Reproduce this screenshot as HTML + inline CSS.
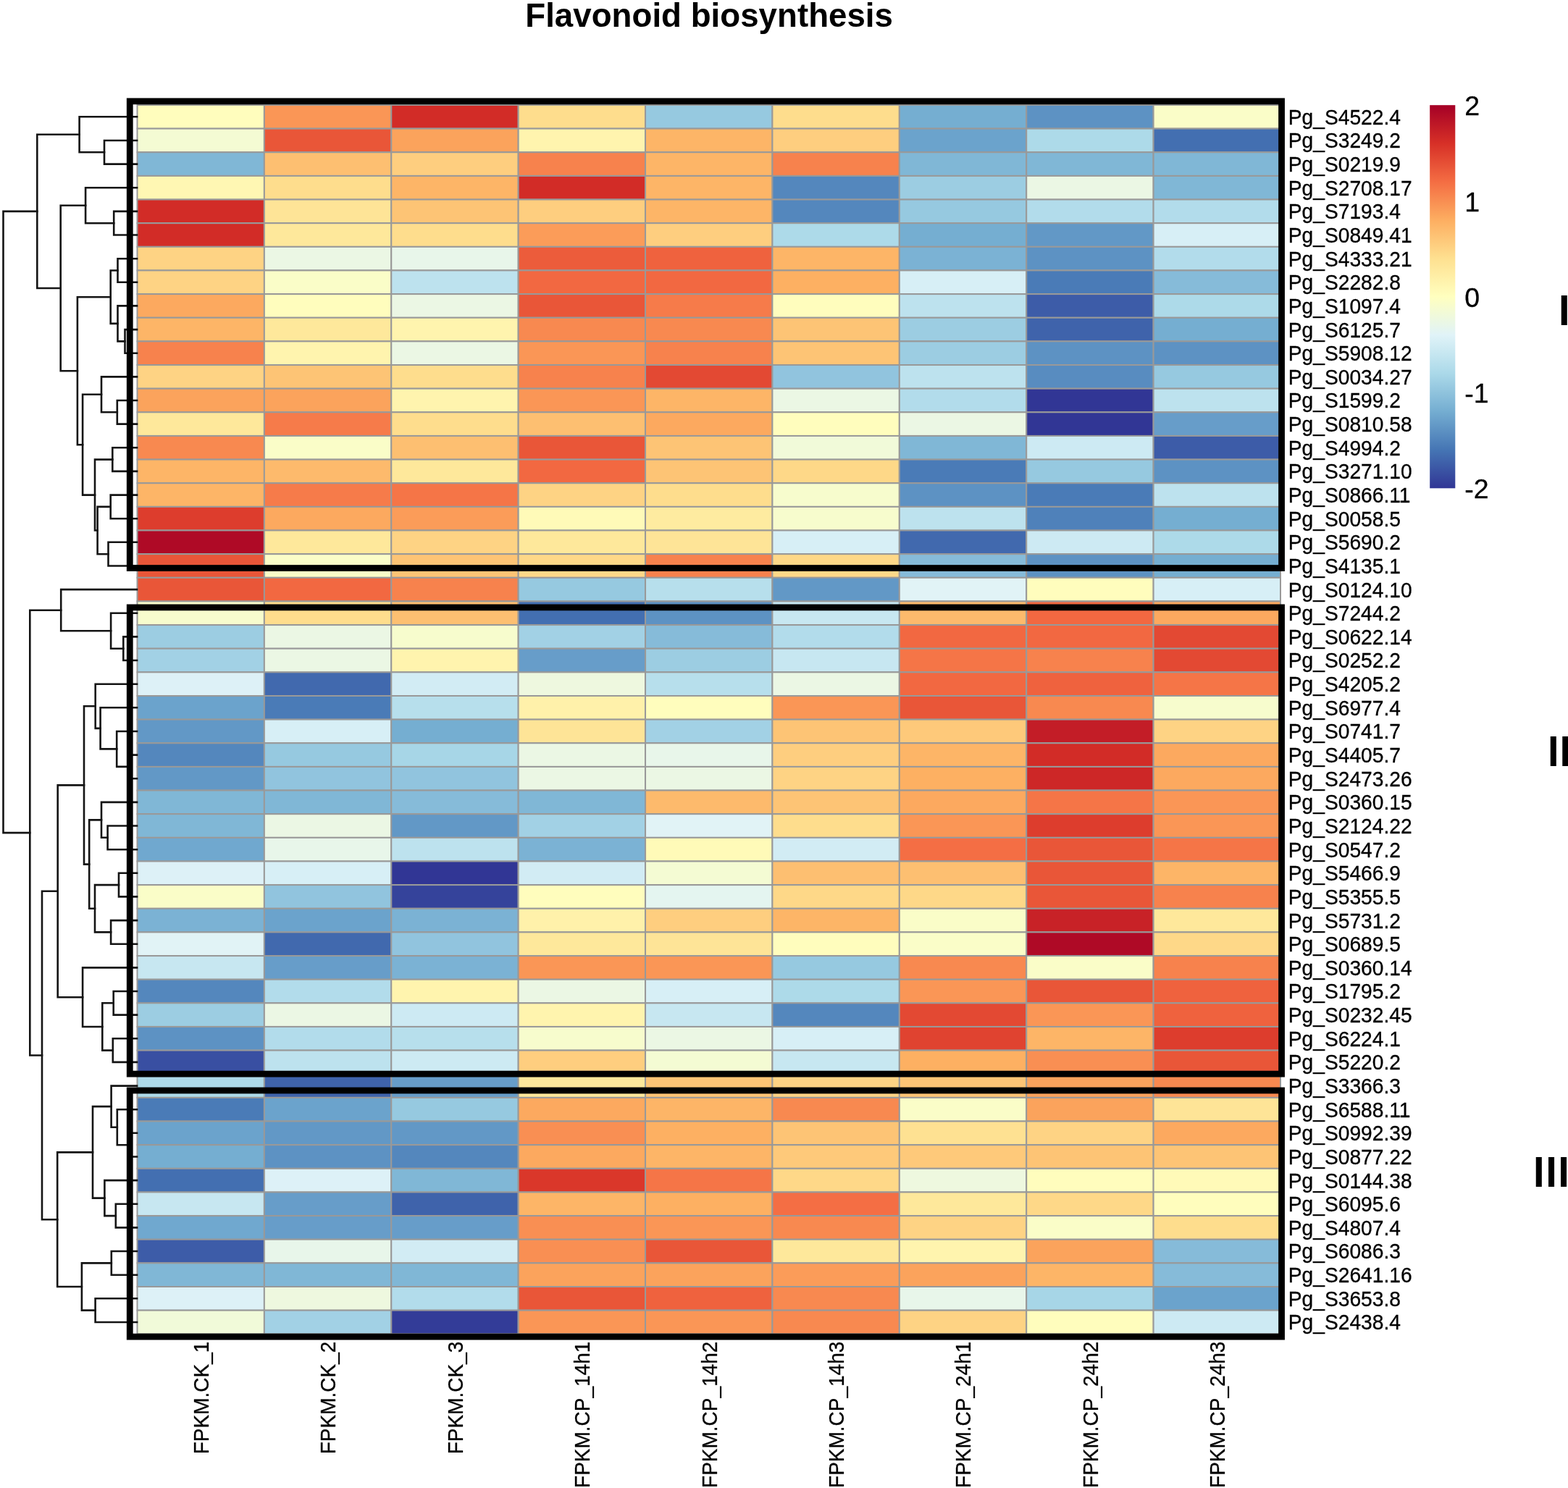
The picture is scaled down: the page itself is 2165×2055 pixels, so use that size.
<!DOCTYPE html>
<html><head><meta charset="utf-8"><title>Flavonoid biosynthesis</title>
<style>
html,body{margin:0;padding:0;background:#fff;}
svg{display:block;}
text{font-family:"Liberation Sans",Arial,Helvetica,sans-serif;fill:#000;}
</style></head><body>
<svg width="2165" height="2055" viewBox="0 0 2165 2055">
<rect width="2165" height="2055" fill="#fff"/>
<text transform="translate(979.1,37) scale(1,1.0)" font-size="45.7" font-weight="bold" text-anchor="middle">Flavonoid biosynthesis</text>
<g stroke="#999999" stroke-width="2">
<rect x="189.50" y="145.00" width="175.39" height="32.64" fill="#fffdbd"/><rect x="364.89" y="145.00" width="175.39" height="32.64" fill="#fa9656"/><rect x="540.28" y="145.00" width="175.39" height="32.64" fill="#d22c27"/><rect x="715.67" y="145.00" width="175.39" height="32.64" fill="#fedd8d"/><rect x="891.06" y="145.00" width="175.39" height="32.64" fill="#96c9e0"/><rect x="1066.44" y="145.00" width="175.39" height="32.64" fill="#fedd8d"/><rect x="1241.83" y="145.00" width="175.39" height="32.64" fill="#75aed1"/><rect x="1417.22" y="145.00" width="175.39" height="32.64" fill="#5d92c3"/><rect x="1592.61" y="145.00" width="175.39" height="32.64" fill="#fafdc8"/>
<rect x="189.50" y="177.64" width="175.39" height="32.64" fill="#f4fbd3"/><rect x="364.89" y="177.64" width="175.39" height="32.64" fill="#e95638"/><rect x="540.28" y="177.64" width="175.39" height="32.64" fill="#fba35c"/><rect x="715.67" y="177.64" width="175.39" height="32.64" fill="#fff4ae"/><rect x="891.06" y="177.64" width="175.39" height="32.64" fill="#fdb567"/><rect x="1066.44" y="177.64" width="175.39" height="32.64" fill="#fece7f"/><rect x="1241.83" y="177.64" width="175.39" height="32.64" fill="#6ba3cc"/><rect x="1417.22" y="177.64" width="175.39" height="32.64" fill="#addae9"/><rect x="1592.61" y="177.64" width="175.39" height="32.64" fill="#436fb1"/>
<rect x="189.50" y="210.28" width="175.39" height="32.64" fill="#80b7d6"/><rect x="364.89" y="210.28" width="175.39" height="32.64" fill="#fdbf71"/><rect x="540.28" y="210.28" width="175.39" height="32.64" fill="#fece7f"/><rect x="715.67" y="210.28" width="175.39" height="32.64" fill="#f7824d"/><rect x="891.06" y="210.28" width="175.39" height="32.64" fill="#fdb567"/><rect x="1066.44" y="210.28" width="175.39" height="32.64" fill="#f7824d"/><rect x="1241.83" y="210.28" width="175.39" height="32.64" fill="#80b7d6"/><rect x="1417.22" y="210.28" width="175.39" height="32.64" fill="#80b7d6"/><rect x="1592.61" y="210.28" width="175.39" height="32.64" fill="#80b7d6"/>
<rect x="189.50" y="242.92" width="175.39" height="32.64" fill="#fff7b3"/><rect x="364.89" y="242.92" width="175.39" height="32.64" fill="#fedd8d"/><rect x="540.28" y="242.92" width="175.39" height="32.64" fill="#fdb567"/><rect x="715.67" y="242.92" width="175.39" height="32.64" fill="#d22c27"/><rect x="891.06" y="242.92" width="175.39" height="32.64" fill="#fdb567"/><rect x="1066.44" y="242.92" width="175.39" height="32.64" fill="#5487bd"/><rect x="1241.83" y="242.92" width="175.39" height="32.64" fill="#9ccde2"/><rect x="1417.22" y="242.92" width="175.39" height="32.64" fill="#ebf7e4"/><rect x="1592.61" y="242.92" width="175.39" height="32.64" fill="#80b7d6"/>
<rect x="189.50" y="275.56" width="175.39" height="32.64" fill="#d22c27"/><rect x="364.89" y="275.56" width="175.39" height="32.64" fill="#fee497"/><rect x="540.28" y="275.56" width="175.39" height="32.64" fill="#fdc475"/><rect x="715.67" y="275.56" width="175.39" height="32.64" fill="#fece7f"/><rect x="891.06" y="275.56" width="175.39" height="32.64" fill="#fdb567"/><rect x="1066.44" y="275.56" width="175.39" height="32.64" fill="#5487bd"/><rect x="1241.83" y="275.56" width="175.39" height="32.64" fill="#96c9e0"/><rect x="1417.22" y="275.56" width="175.39" height="32.64" fill="#b2dceb"/><rect x="1592.61" y="275.56" width="175.39" height="32.64" fill="#b2dceb"/>
<rect x="189.50" y="308.20" width="175.39" height="32.64" fill="#d22c27"/><rect x="364.89" y="308.20" width="175.39" height="32.64" fill="#fee89b"/><rect x="540.28" y="308.20" width="175.39" height="32.64" fill="#fedd8d"/><rect x="715.67" y="308.20" width="175.39" height="32.64" fill="#fb9c59"/><rect x="891.06" y="308.20" width="175.39" height="32.64" fill="#fece7f"/><rect x="1066.44" y="308.20" width="175.39" height="32.64" fill="#addae9"/><rect x="1241.83" y="308.20" width="175.39" height="32.64" fill="#75aed1"/><rect x="1417.22" y="308.20" width="175.39" height="32.64" fill="#6298c6"/><rect x="1592.61" y="308.20" width="175.39" height="32.64" fill="#d7eff6"/>
<rect x="189.50" y="340.84" width="175.39" height="32.64" fill="#fed384"/><rect x="364.89" y="340.84" width="175.39" height="32.64" fill="#ebf7e4"/><rect x="540.28" y="340.84" width="175.39" height="32.64" fill="#e8f6ea"/><rect x="715.67" y="340.84" width="175.39" height="32.64" fill="#ec5c3b"/><rect x="891.06" y="340.84" width="175.39" height="32.64" fill="#ef623e"/><rect x="1066.44" y="340.84" width="175.39" height="32.64" fill="#fdb567"/><rect x="1241.83" y="340.84" width="175.39" height="32.64" fill="#7bb2d4"/><rect x="1417.22" y="340.84" width="175.39" height="32.64" fill="#5d92c3"/><rect x="1592.61" y="340.84" width="175.39" height="32.64" fill="#b2dceb"/>
<rect x="189.50" y="373.48" width="175.39" height="32.64" fill="#fed384"/><rect x="364.89" y="373.48" width="175.39" height="32.64" fill="#fafdc8"/><rect x="540.28" y="373.48" width="175.39" height="32.64" fill="#bde2ee"/><rect x="715.67" y="373.48" width="175.39" height="32.64" fill="#f26841"/><rect x="891.06" y="373.48" width="175.39" height="32.64" fill="#f26841"/><rect x="1066.44" y="373.48" width="175.39" height="32.64" fill="#fdb062"/><rect x="1241.83" y="373.48" width="175.39" height="32.64" fill="#d7eff6"/><rect x="1417.22" y="373.48" width="175.39" height="32.64" fill="#4a7bb7"/><rect x="1592.61" y="373.48" width="175.39" height="32.64" fill="#86bbd9"/>
<rect x="189.50" y="406.12" width="175.39" height="32.64" fill="#fca95f"/><rect x="364.89" y="406.12" width="175.39" height="32.64" fill="#fffdbd"/><rect x="540.28" y="406.12" width="175.39" height="32.64" fill="#ebf7e4"/><rect x="715.67" y="406.12" width="175.39" height="32.64" fill="#e95638"/><rect x="891.06" y="406.12" width="175.39" height="32.64" fill="#f67b4a"/><rect x="1066.44" y="406.12" width="175.39" height="32.64" fill="#fffdbd"/><rect x="1241.83" y="406.12" width="175.39" height="32.64" fill="#bde2ee"/><rect x="1417.22" y="406.12" width="175.39" height="32.64" fill="#3d5ca8"/><rect x="1592.61" y="406.12" width="175.39" height="32.64" fill="#addae9"/>
<rect x="189.50" y="438.76" width="175.39" height="32.64" fill="#fdb567"/><rect x="364.89" y="438.76" width="175.39" height="32.64" fill="#fee89b"/><rect x="540.28" y="438.76" width="175.39" height="32.64" fill="#fff4ae"/><rect x="715.67" y="438.76" width="175.39" height="32.64" fill="#f88950"/><rect x="891.06" y="438.76" width="175.39" height="32.64" fill="#f88950"/><rect x="1066.44" y="438.76" width="175.39" height="32.64" fill="#fdc475"/><rect x="1241.83" y="438.76" width="175.39" height="32.64" fill="#9ccde2"/><rect x="1417.22" y="438.76" width="175.39" height="32.64" fill="#3f63ab"/><rect x="1592.61" y="438.76" width="175.39" height="32.64" fill="#75aed1"/>
<rect x="189.50" y="471.40" width="175.39" height="32.64" fill="#f7824d"/><rect x="364.89" y="471.40" width="175.39" height="32.64" fill="#fff4ae"/><rect x="540.28" y="471.40" width="175.39" height="32.64" fill="#ebf7e4"/><rect x="715.67" y="471.40" width="175.39" height="32.64" fill="#fa9656"/><rect x="891.06" y="471.40" width="175.39" height="32.64" fill="#f7824d"/><rect x="1066.44" y="471.40" width="175.39" height="32.64" fill="#fdc475"/><rect x="1241.83" y="471.40" width="175.39" height="32.64" fill="#9ccde2"/><rect x="1417.22" y="471.40" width="175.39" height="32.64" fill="#5d92c3"/><rect x="1592.61" y="471.40" width="175.39" height="32.64" fill="#5d92c3"/>
<rect x="189.50" y="504.04" width="175.39" height="32.64" fill="#fed384"/><rect x="364.89" y="504.04" width="175.39" height="32.64" fill="#fdc475"/><rect x="540.28" y="504.04" width="175.39" height="32.64" fill="#fedd8d"/><rect x="715.67" y="504.04" width="175.39" height="32.64" fill="#f7824d"/><rect x="891.06" y="504.04" width="175.39" height="32.64" fill="#e34933"/><rect x="1066.44" y="504.04" width="175.39" height="32.64" fill="#91c4de"/><rect x="1241.83" y="504.04" width="175.39" height="32.64" fill="#bde2ee"/><rect x="1417.22" y="504.04" width="175.39" height="32.64" fill="#588cc0"/><rect x="1592.61" y="504.04" width="175.39" height="32.64" fill="#96c9e0"/>
<rect x="189.50" y="536.68" width="175.39" height="32.64" fill="#fba35c"/><rect x="364.89" y="536.68" width="175.39" height="32.64" fill="#fba35c"/><rect x="540.28" y="536.68" width="175.39" height="32.64" fill="#fff4ae"/><rect x="715.67" y="536.68" width="175.39" height="32.64" fill="#fa9656"/><rect x="891.06" y="536.68" width="175.39" height="32.64" fill="#fdb567"/><rect x="1066.44" y="536.68" width="175.39" height="32.64" fill="#ebf7e4"/><rect x="1241.83" y="536.68" width="175.39" height="32.64" fill="#b2dceb"/><rect x="1417.22" y="536.68" width="175.39" height="32.64" fill="#313695"/><rect x="1592.61" y="536.68" width="175.39" height="32.64" fill="#bde2ee"/>
<rect x="189.50" y="569.32" width="175.39" height="32.64" fill="#fee89b"/><rect x="364.89" y="569.32" width="175.39" height="32.64" fill="#f67b4a"/><rect x="540.28" y="569.32" width="175.39" height="32.64" fill="#fedd8d"/><rect x="715.67" y="569.32" width="175.39" height="32.64" fill="#fdbf71"/><rect x="891.06" y="569.32" width="175.39" height="32.64" fill="#fca95f"/><rect x="1066.44" y="569.32" width="175.39" height="32.64" fill="#fffdbd"/><rect x="1241.83" y="569.32" width="175.39" height="32.64" fill="#ebf7e4"/><rect x="1417.22" y="569.32" width="175.39" height="32.64" fill="#313695"/><rect x="1592.61" y="569.32" width="175.39" height="32.64" fill="#679dc9"/>
<rect x="189.50" y="601.96" width="175.39" height="32.64" fill="#f88950"/><rect x="364.89" y="601.96" width="175.39" height="32.64" fill="#fafdc8"/><rect x="540.28" y="601.96" width="175.39" height="32.64" fill="#fdbf71"/><rect x="715.67" y="601.96" width="175.39" height="32.64" fill="#e95638"/><rect x="891.06" y="601.96" width="175.39" height="32.64" fill="#fdc475"/><rect x="1066.44" y="601.96" width="175.39" height="32.64" fill="#f1fad9"/><rect x="1241.83" y="601.96" width="175.39" height="32.64" fill="#80b7d6"/><rect x="1417.22" y="601.96" width="175.39" height="32.64" fill="#cdeaf3"/><rect x="1592.61" y="601.96" width="175.39" height="32.64" fill="#3d5ca8"/>
<rect x="189.50" y="634.60" width="175.39" height="32.64" fill="#fdb567"/><rect x="364.89" y="634.60" width="175.39" height="32.64" fill="#fdba6c"/><rect x="540.28" y="634.60" width="175.39" height="32.64" fill="#fee89b"/><rect x="715.67" y="634.60" width="175.39" height="32.64" fill="#f26841"/><rect x="891.06" y="634.60" width="175.39" height="32.64" fill="#fdc475"/><rect x="1066.44" y="634.60" width="175.39" height="32.64" fill="#fed888"/><rect x="1241.83" y="634.60" width="175.39" height="32.64" fill="#4a7bb7"/><rect x="1417.22" y="634.60" width="175.39" height="32.64" fill="#96c9e0"/><rect x="1592.61" y="634.60" width="175.39" height="32.64" fill="#5d92c3"/>
<rect x="189.50" y="667.24" width="175.39" height="32.64" fill="#fdb567"/><rect x="364.89" y="667.24" width="175.39" height="32.64" fill="#f67b4a"/><rect x="540.28" y="667.24" width="175.39" height="32.64" fill="#f57547"/><rect x="715.67" y="667.24" width="175.39" height="32.64" fill="#fed384"/><rect x="891.06" y="667.24" width="175.39" height="32.64" fill="#fedd8d"/><rect x="1066.44" y="667.24" width="175.39" height="32.64" fill="#f7fccd"/><rect x="1241.83" y="667.24" width="175.39" height="32.64" fill="#5d92c3"/><rect x="1417.22" y="667.24" width="175.39" height="32.64" fill="#4a7bb7"/><rect x="1592.61" y="667.24" width="175.39" height="32.64" fill="#bde2ee"/>
<rect x="189.50" y="699.88" width="175.39" height="32.64" fill="#dd3d2d"/><rect x="364.89" y="699.88" width="175.39" height="32.64" fill="#fca95f"/><rect x="540.28" y="699.88" width="175.39" height="32.64" fill="#fb9c59"/><rect x="715.67" y="699.88" width="175.39" height="32.64" fill="#fffab8"/><rect x="891.06" y="699.88" width="175.39" height="32.64" fill="#feeba0"/><rect x="1066.44" y="699.88" width="175.39" height="32.64" fill="#f7fccd"/><rect x="1241.83" y="699.88" width="175.39" height="32.64" fill="#bde2ee"/><rect x="1417.22" y="699.88" width="175.39" height="32.64" fill="#4f81ba"/><rect x="1592.61" y="699.88" width="175.39" height="32.64" fill="#75aed1"/>
<rect x="189.50" y="732.52" width="175.39" height="32.64" fill="#af0a26"/><rect x="364.89" y="732.52" width="175.39" height="32.64" fill="#fee89b"/><rect x="540.28" y="732.52" width="175.39" height="32.64" fill="#fed384"/><rect x="715.67" y="732.52" width="175.39" height="32.64" fill="#fee89b"/><rect x="891.06" y="732.52" width="175.39" height="32.64" fill="#fee497"/><rect x="1066.44" y="732.52" width="175.39" height="32.64" fill="#d7eff6"/><rect x="1241.83" y="732.52" width="175.39" height="32.64" fill="#4169ae"/><rect x="1417.22" y="732.52" width="175.39" height="32.64" fill="#cdeaf3"/><rect x="1592.61" y="732.52" width="175.39" height="32.64" fill="#addae9"/>
<rect x="189.50" y="765.16" width="175.39" height="32.64" fill="#e95638"/><rect x="364.89" y="765.16" width="175.39" height="32.64" fill="#fafdc8"/><rect x="540.28" y="765.16" width="175.39" height="32.64" fill="#fdc475"/><rect x="715.67" y="765.16" width="175.39" height="32.64" fill="#fed888"/><rect x="891.06" y="765.16" width="175.39" height="32.64" fill="#f7824d"/><rect x="1066.44" y="765.16" width="175.39" height="32.64" fill="#fed888"/><rect x="1241.83" y="765.16" width="175.39" height="32.64" fill="#86bbd9"/><rect x="1417.22" y="765.16" width="175.39" height="32.64" fill="#5d92c3"/><rect x="1592.61" y="765.16" width="175.39" height="32.64" fill="#75aed1"/>
<rect x="189.50" y="797.80" width="175.39" height="32.64" fill="#e95638"/><rect x="364.89" y="797.80" width="175.39" height="32.64" fill="#f26841"/><rect x="540.28" y="797.80" width="175.39" height="32.64" fill="#f7824d"/><rect x="715.67" y="797.80" width="175.39" height="32.64" fill="#96c9e0"/><rect x="891.06" y="797.80" width="175.39" height="32.64" fill="#b7dfec"/><rect x="1066.44" y="797.80" width="175.39" height="32.64" fill="#6298c6"/><rect x="1241.83" y="797.80" width="175.39" height="32.64" fill="#e1f3f6"/><rect x="1417.22" y="797.80" width="175.39" height="32.64" fill="#fffdbd"/><rect x="1592.61" y="797.80" width="175.39" height="32.64" fill="#d7eff6"/>
<rect x="189.50" y="830.44" width="175.39" height="32.64" fill="#f7fccd"/><rect x="364.89" y="830.44" width="175.39" height="32.64" fill="#fedd8d"/><rect x="540.28" y="830.44" width="175.39" height="32.64" fill="#fdbf71"/><rect x="715.67" y="830.44" width="175.39" height="32.64" fill="#436fb1"/><rect x="891.06" y="830.44" width="175.39" height="32.64" fill="#5d92c3"/><rect x="1066.44" y="830.44" width="175.39" height="32.64" fill="#c7e7f1"/><rect x="1241.83" y="830.44" width="175.39" height="32.64" fill="#fdba6c"/><rect x="1417.22" y="830.44" width="175.39" height="32.64" fill="#f26841"/><rect x="1592.61" y="830.44" width="175.39" height="32.64" fill="#fca95f"/>
<rect x="189.50" y="863.08" width="175.39" height="32.64" fill="#9ccde2"/><rect x="364.89" y="863.08" width="175.39" height="32.64" fill="#ebf7e4"/><rect x="540.28" y="863.08" width="175.39" height="32.64" fill="#f7fccd"/><rect x="715.67" y="863.08" width="175.39" height="32.64" fill="#a2d1e5"/><rect x="891.06" y="863.08" width="175.39" height="32.64" fill="#86bbd9"/><rect x="1066.44" y="863.08" width="175.39" height="32.64" fill="#b2dceb"/><rect x="1241.83" y="863.08" width="175.39" height="32.64" fill="#f26841"/><rect x="1417.22" y="863.08" width="175.39" height="32.64" fill="#f26841"/><rect x="1592.61" y="863.08" width="175.39" height="32.64" fill="#e34933"/>
<rect x="189.50" y="895.72" width="175.39" height="32.64" fill="#a2d1e5"/><rect x="364.89" y="895.72" width="175.39" height="32.64" fill="#ebf7e4"/><rect x="540.28" y="895.72" width="175.39" height="32.64" fill="#fff4ae"/><rect x="715.67" y="895.72" width="175.39" height="32.64" fill="#679dc9"/><rect x="891.06" y="895.72" width="175.39" height="32.64" fill="#9ccde2"/><rect x="1066.44" y="895.72" width="175.39" height="32.64" fill="#c7e7f1"/><rect x="1241.83" y="895.72" width="175.39" height="32.64" fill="#f57547"/><rect x="1417.22" y="895.72" width="175.39" height="32.64" fill="#f7824d"/><rect x="1592.61" y="895.72" width="175.39" height="32.64" fill="#e34933"/>
<rect x="189.50" y="928.36" width="175.39" height="32.64" fill="#ddf1f7"/><rect x="364.89" y="928.36" width="175.39" height="32.64" fill="#4169ae"/><rect x="540.28" y="928.36" width="175.39" height="32.64" fill="#d2ecf4"/><rect x="715.67" y="928.36" width="175.39" height="32.64" fill="#eef8df"/><rect x="891.06" y="928.36" width="175.39" height="32.64" fill="#b7dfec"/><rect x="1066.44" y="928.36" width="175.39" height="32.64" fill="#ebf7e4"/><rect x="1241.83" y="928.36" width="175.39" height="32.64" fill="#f26841"/><rect x="1417.22" y="928.36" width="175.39" height="32.64" fill="#ef623e"/><rect x="1592.61" y="928.36" width="175.39" height="32.64" fill="#f57547"/>
<rect x="189.50" y="961.00" width="175.39" height="32.64" fill="#6ba3cc"/><rect x="364.89" y="961.00" width="175.39" height="32.64" fill="#4a7bb7"/><rect x="540.28" y="961.00" width="175.39" height="32.64" fill="#b7dfec"/><rect x="715.67" y="961.00" width="175.39" height="32.64" fill="#fff1aa"/><rect x="891.06" y="961.00" width="175.39" height="32.64" fill="#fffdbd"/><rect x="1066.44" y="961.00" width="175.39" height="32.64" fill="#fa9656"/><rect x="1241.83" y="961.00" width="175.39" height="32.64" fill="#e95638"/><rect x="1417.22" y="961.00" width="175.39" height="32.64" fill="#f88950"/><rect x="1592.61" y="961.00" width="175.39" height="32.64" fill="#f7fccd"/>
<rect x="189.50" y="993.64" width="175.39" height="32.64" fill="#6298c6"/><rect x="364.89" y="993.64" width="175.39" height="32.64" fill="#d7eff6"/><rect x="540.28" y="993.64" width="175.39" height="32.64" fill="#75aed1"/><rect x="715.67" y="993.64" width="175.39" height="32.64" fill="#fee497"/><rect x="891.06" y="993.64" width="175.39" height="32.64" fill="#a2d1e5"/><rect x="1066.44" y="993.64" width="175.39" height="32.64" fill="#fdc475"/><rect x="1241.83" y="993.64" width="175.39" height="32.64" fill="#fec97a"/><rect x="1417.22" y="993.64" width="175.39" height="32.64" fill="#c31d27"/><rect x="1592.61" y="993.64" width="175.39" height="32.64" fill="#fed384"/>
<rect x="189.50" y="1026.28" width="175.39" height="32.64" fill="#5487bd"/><rect x="364.89" y="1026.28" width="175.39" height="32.64" fill="#96c9e0"/><rect x="540.28" y="1026.28" width="175.39" height="32.64" fill="#a7d6e7"/><rect x="715.67" y="1026.28" width="175.39" height="32.64" fill="#ebf7e4"/><rect x="891.06" y="1026.28" width="175.39" height="32.64" fill="#e8f6ea"/><rect x="1066.44" y="1026.28" width="175.39" height="32.64" fill="#fece7f"/><rect x="1241.83" y="1026.28" width="175.39" height="32.64" fill="#fdb567"/><rect x="1417.22" y="1026.28" width="175.39" height="32.64" fill="#d22c27"/><rect x="1592.61" y="1026.28" width="175.39" height="32.64" fill="#fca95f"/>
<rect x="189.50" y="1058.92" width="175.39" height="32.64" fill="#6298c6"/><rect x="364.89" y="1058.92" width="175.39" height="32.64" fill="#91c4de"/><rect x="540.28" y="1058.92" width="175.39" height="32.64" fill="#91c4de"/><rect x="715.67" y="1058.92" width="175.39" height="32.64" fill="#ebf7e4"/><rect x="891.06" y="1058.92" width="175.39" height="32.64" fill="#ebf7e4"/><rect x="1066.44" y="1058.92" width="175.39" height="32.64" fill="#fed384"/><rect x="1241.83" y="1058.92" width="175.39" height="32.64" fill="#fdb062"/><rect x="1417.22" y="1058.92" width="175.39" height="32.64" fill="#cd2727"/><rect x="1592.61" y="1058.92" width="175.39" height="32.64" fill="#fca95f"/>
<rect x="189.50" y="1091.56" width="175.39" height="32.64" fill="#80b7d6"/><rect x="364.89" y="1091.56" width="175.39" height="32.64" fill="#80b7d6"/><rect x="540.28" y="1091.56" width="175.39" height="32.64" fill="#86bbd9"/><rect x="715.67" y="1091.56" width="175.39" height="32.64" fill="#80b7d6"/><rect x="891.06" y="1091.56" width="175.39" height="32.64" fill="#fdba6c"/><rect x="1066.44" y="1091.56" width="175.39" height="32.64" fill="#fdc475"/><rect x="1241.83" y="1091.56" width="175.39" height="32.64" fill="#fca95f"/><rect x="1417.22" y="1091.56" width="175.39" height="32.64" fill="#f57547"/><rect x="1592.61" y="1091.56" width="175.39" height="32.64" fill="#fa9656"/>
<rect x="189.50" y="1124.20" width="175.39" height="32.64" fill="#80b7d6"/><rect x="364.89" y="1124.20" width="175.39" height="32.64" fill="#ebf7e4"/><rect x="540.28" y="1124.20" width="175.39" height="32.64" fill="#6298c6"/><rect x="715.67" y="1124.20" width="175.39" height="32.64" fill="#a2d1e5"/><rect x="891.06" y="1124.20" width="175.39" height="32.64" fill="#e1f3f6"/><rect x="1066.44" y="1124.20" width="175.39" height="32.64" fill="#fedd8d"/><rect x="1241.83" y="1124.20" width="175.39" height="32.64" fill="#fa9656"/><rect x="1417.22" y="1124.20" width="175.39" height="32.64" fill="#dd3d2d"/><rect x="1592.61" y="1124.20" width="175.39" height="32.64" fill="#fa9656"/>
<rect x="189.50" y="1156.84" width="175.39" height="32.64" fill="#70a8cf"/><rect x="364.89" y="1156.84" width="175.39" height="32.64" fill="#e8f6ea"/><rect x="540.28" y="1156.84" width="175.39" height="32.64" fill="#bde2ee"/><rect x="715.67" y="1156.84" width="175.39" height="32.64" fill="#7bb2d4"/><rect x="891.06" y="1156.84" width="175.39" height="32.64" fill="#fffab8"/><rect x="1066.44" y="1156.84" width="175.39" height="32.64" fill="#d2ecf4"/><rect x="1241.83" y="1156.84" width="175.39" height="32.64" fill="#f46e44"/><rect x="1417.22" y="1156.84" width="175.39" height="32.64" fill="#e95638"/><rect x="1592.61" y="1156.84" width="175.39" height="32.64" fill="#f57547"/>
<rect x="189.50" y="1189.48" width="175.39" height="32.64" fill="#ddf1f7"/><rect x="364.89" y="1189.48" width="175.39" height="32.64" fill="#d7eff6"/><rect x="540.28" y="1189.48" width="175.39" height="32.64" fill="#313695"/><rect x="715.67" y="1189.48" width="175.39" height="32.64" fill="#d2ecf4"/><rect x="891.06" y="1189.48" width="175.39" height="32.64" fill="#f4fbd3"/><rect x="1066.44" y="1189.48" width="175.39" height="32.64" fill="#fdbf71"/><rect x="1241.83" y="1189.48" width="175.39" height="32.64" fill="#fdbf71"/><rect x="1417.22" y="1189.48" width="175.39" height="32.64" fill="#e95638"/><rect x="1592.61" y="1189.48" width="175.39" height="32.64" fill="#fdb567"/>
<rect x="189.50" y="1222.12" width="175.39" height="32.64" fill="#fafdc8"/><rect x="364.89" y="1222.12" width="175.39" height="32.64" fill="#91c4de"/><rect x="540.28" y="1222.12" width="175.39" height="32.64" fill="#35439b"/><rect x="715.67" y="1222.12" width="175.39" height="32.64" fill="#fffdbd"/><rect x="891.06" y="1222.12" width="175.39" height="32.64" fill="#e4f5f0"/><rect x="1066.44" y="1222.12" width="175.39" height="32.64" fill="#fed888"/><rect x="1241.83" y="1222.12" width="175.39" height="32.64" fill="#fed888"/><rect x="1417.22" y="1222.12" width="175.39" height="32.64" fill="#e95638"/><rect x="1592.61" y="1222.12" width="175.39" height="32.64" fill="#f7824d"/>
<rect x="189.50" y="1254.76" width="175.39" height="32.64" fill="#7bb2d4"/><rect x="364.89" y="1254.76" width="175.39" height="32.64" fill="#6ba3cc"/><rect x="540.28" y="1254.76" width="175.39" height="32.64" fill="#7bb2d4"/><rect x="715.67" y="1254.76" width="175.39" height="32.64" fill="#fff1aa"/><rect x="891.06" y="1254.76" width="175.39" height="32.64" fill="#fece7f"/><rect x="1066.44" y="1254.76" width="175.39" height="32.64" fill="#fdb567"/><rect x="1241.83" y="1254.76" width="175.39" height="32.64" fill="#fafdc8"/><rect x="1417.22" y="1254.76" width="175.39" height="32.64" fill="#c82227"/><rect x="1592.61" y="1254.76" width="175.39" height="32.64" fill="#fee89b"/>
<rect x="189.50" y="1287.40" width="175.39" height="32.64" fill="#e1f3f6"/><rect x="364.89" y="1287.40" width="175.39" height="32.64" fill="#4169ae"/><rect x="540.28" y="1287.40" width="175.39" height="32.64" fill="#91c4de"/><rect x="715.67" y="1287.40" width="175.39" height="32.64" fill="#fee89b"/><rect x="891.06" y="1287.40" width="175.39" height="32.64" fill="#fee497"/><rect x="1066.44" y="1287.40" width="175.39" height="32.64" fill="#fffdbd"/><rect x="1241.83" y="1287.40" width="175.39" height="32.64" fill="#fafdc8"/><rect x="1417.22" y="1287.40" width="175.39" height="32.64" fill="#af0a26"/><rect x="1592.61" y="1287.40" width="175.39" height="32.64" fill="#fed888"/>
<rect x="189.50" y="1320.04" width="175.39" height="32.64" fill="#c7e7f1"/><rect x="364.89" y="1320.04" width="175.39" height="32.64" fill="#679dc9"/><rect x="540.28" y="1320.04" width="175.39" height="32.64" fill="#7bb2d4"/><rect x="715.67" y="1320.04" width="175.39" height="32.64" fill="#fa9656"/><rect x="891.06" y="1320.04" width="175.39" height="32.64" fill="#fa9656"/><rect x="1066.44" y="1320.04" width="175.39" height="32.64" fill="#96c9e0"/><rect x="1241.83" y="1320.04" width="175.39" height="32.64" fill="#f88950"/><rect x="1417.22" y="1320.04" width="175.39" height="32.64" fill="#fafdc8"/><rect x="1592.61" y="1320.04" width="175.39" height="32.64" fill="#f7824d"/>
<rect x="189.50" y="1352.68" width="175.39" height="32.64" fill="#5487bd"/><rect x="364.89" y="1352.68" width="175.39" height="32.64" fill="#b2dceb"/><rect x="540.28" y="1352.68" width="175.39" height="32.64" fill="#fff4ae"/><rect x="715.67" y="1352.68" width="175.39" height="32.64" fill="#ebf7e4"/><rect x="891.06" y="1352.68" width="175.39" height="32.64" fill="#d7eff6"/><rect x="1066.44" y="1352.68" width="175.39" height="32.64" fill="#addae9"/><rect x="1241.83" y="1352.68" width="175.39" height="32.64" fill="#fa9656"/><rect x="1417.22" y="1352.68" width="175.39" height="32.64" fill="#e95638"/><rect x="1592.61" y="1352.68" width="175.39" height="32.64" fill="#ef623e"/>
<rect x="189.50" y="1385.32" width="175.39" height="32.64" fill="#9ccde2"/><rect x="364.89" y="1385.32" width="175.39" height="32.64" fill="#ebf7e4"/><rect x="540.28" y="1385.32" width="175.39" height="32.64" fill="#cdeaf3"/><rect x="715.67" y="1385.32" width="175.39" height="32.64" fill="#fff4ae"/><rect x="891.06" y="1385.32" width="175.39" height="32.64" fill="#c7e7f1"/><rect x="1066.44" y="1385.32" width="175.39" height="32.64" fill="#5487bd"/><rect x="1241.83" y="1385.32" width="175.39" height="32.64" fill="#e34933"/><rect x="1417.22" y="1385.32" width="175.39" height="32.64" fill="#fa9656"/><rect x="1592.61" y="1385.32" width="175.39" height="32.64" fill="#ef623e"/>
<rect x="189.50" y="1417.96" width="175.39" height="32.64" fill="#5d92c3"/><rect x="364.89" y="1417.96" width="175.39" height="32.64" fill="#b2dceb"/><rect x="540.28" y="1417.96" width="175.39" height="32.64" fill="#b7dfec"/><rect x="715.67" y="1417.96" width="175.39" height="32.64" fill="#f7fccd"/><rect x="891.06" y="1417.96" width="175.39" height="32.64" fill="#ebf7e4"/><rect x="1066.44" y="1417.96" width="175.39" height="32.64" fill="#d7eff6"/><rect x="1241.83" y="1417.96" width="175.39" height="32.64" fill="#e04330"/><rect x="1417.22" y="1417.96" width="175.39" height="32.64" fill="#fdb567"/><rect x="1592.61" y="1417.96" width="175.39" height="32.64" fill="#dd3d2d"/>
<rect x="189.50" y="1450.60" width="175.39" height="32.64" fill="#394fa2"/><rect x="364.89" y="1450.60" width="175.39" height="32.64" fill="#bde2ee"/><rect x="540.28" y="1450.60" width="175.39" height="32.64" fill="#cdeaf3"/><rect x="715.67" y="1450.60" width="175.39" height="32.64" fill="#fece7f"/><rect x="891.06" y="1450.60" width="175.39" height="32.64" fill="#f4fbd3"/><rect x="1066.44" y="1450.60" width="175.39" height="32.64" fill="#c7e7f1"/><rect x="1241.83" y="1450.60" width="175.39" height="32.64" fill="#fdb062"/><rect x="1417.22" y="1450.60" width="175.39" height="32.64" fill="#f98f53"/><rect x="1592.61" y="1450.60" width="175.39" height="32.64" fill="#e95638"/>
<rect x="189.50" y="1483.24" width="175.39" height="32.64" fill="#addae9"/><rect x="364.89" y="1483.24" width="175.39" height="32.64" fill="#3f63ab"/><rect x="540.28" y="1483.24" width="175.39" height="32.64" fill="#679dc9"/><rect x="715.67" y="1483.24" width="175.39" height="32.64" fill="#fee89b"/><rect x="891.06" y="1483.24" width="175.39" height="32.64" fill="#fdc475"/><rect x="1066.44" y="1483.24" width="175.39" height="32.64" fill="#fed384"/><rect x="1241.83" y="1483.24" width="175.39" height="32.64" fill="#fdc475"/><rect x="1417.22" y="1483.24" width="175.39" height="32.64" fill="#fba35c"/><rect x="1592.61" y="1483.24" width="175.39" height="32.64" fill="#f88950"/>
<rect x="189.50" y="1515.88" width="175.39" height="32.64" fill="#4a7bb7"/><rect x="364.89" y="1515.88" width="175.39" height="32.64" fill="#6ba3cc"/><rect x="540.28" y="1515.88" width="175.39" height="32.64" fill="#96c9e0"/><rect x="715.67" y="1515.88" width="175.39" height="32.64" fill="#fca95f"/><rect x="891.06" y="1515.88" width="175.39" height="32.64" fill="#fdb567"/><rect x="1066.44" y="1515.88" width="175.39" height="32.64" fill="#f88950"/><rect x="1241.83" y="1515.88" width="175.39" height="32.64" fill="#fafdc8"/><rect x="1417.22" y="1515.88" width="175.39" height="32.64" fill="#fba35c"/><rect x="1592.61" y="1515.88" width="175.39" height="32.64" fill="#fee497"/>
<rect x="189.50" y="1548.52" width="175.39" height="32.64" fill="#6ba3cc"/><rect x="364.89" y="1548.52" width="175.39" height="32.64" fill="#6298c6"/><rect x="540.28" y="1548.52" width="175.39" height="32.64" fill="#6298c6"/><rect x="715.67" y="1548.52" width="175.39" height="32.64" fill="#f98f53"/><rect x="891.06" y="1548.52" width="175.39" height="32.64" fill="#fdb062"/><rect x="1066.44" y="1548.52" width="175.39" height="32.64" fill="#fdc475"/><rect x="1241.83" y="1548.52" width="175.39" height="32.64" fill="#fee192"/><rect x="1417.22" y="1548.52" width="175.39" height="32.64" fill="#fed384"/><rect x="1592.61" y="1548.52" width="175.39" height="32.64" fill="#fca95f"/>
<rect x="189.50" y="1581.16" width="175.39" height="32.64" fill="#75aed1"/><rect x="364.89" y="1581.16" width="175.39" height="32.64" fill="#5d92c3"/><rect x="540.28" y="1581.16" width="175.39" height="32.64" fill="#5487bd"/><rect x="715.67" y="1581.16" width="175.39" height="32.64" fill="#fca95f"/><rect x="891.06" y="1581.16" width="175.39" height="32.64" fill="#fdb567"/><rect x="1066.44" y="1581.16" width="175.39" height="32.64" fill="#fec97a"/><rect x="1241.83" y="1581.16" width="175.39" height="32.64" fill="#fec97a"/><rect x="1417.22" y="1581.16" width="175.39" height="32.64" fill="#fdc475"/><rect x="1592.61" y="1581.16" width="175.39" height="32.64" fill="#fdc475"/>
<rect x="189.50" y="1613.80" width="175.39" height="32.64" fill="#436fb1"/><rect x="364.89" y="1613.80" width="175.39" height="32.64" fill="#ddf1f7"/><rect x="540.28" y="1613.80" width="175.39" height="32.64" fill="#80b7d6"/><rect x="715.67" y="1613.80" width="175.39" height="32.64" fill="#da372a"/><rect x="891.06" y="1613.80" width="175.39" height="32.64" fill="#f57547"/><rect x="1066.44" y="1613.80" width="175.39" height="32.64" fill="#fed888"/><rect x="1241.83" y="1613.80" width="175.39" height="32.64" fill="#eef8df"/><rect x="1417.22" y="1613.80" width="175.39" height="32.64" fill="#fffdbd"/><rect x="1592.61" y="1613.80" width="175.39" height="32.64" fill="#fffab8"/>
<rect x="189.50" y="1646.44" width="175.39" height="32.64" fill="#c7e7f1"/><rect x="364.89" y="1646.44" width="175.39" height="32.64" fill="#679dc9"/><rect x="540.28" y="1646.44" width="175.39" height="32.64" fill="#3f63ab"/><rect x="715.67" y="1646.44" width="175.39" height="32.64" fill="#fdb567"/><rect x="891.06" y="1646.44" width="175.39" height="32.64" fill="#fdb062"/><rect x="1066.44" y="1646.44" width="175.39" height="32.64" fill="#f46e44"/><rect x="1241.83" y="1646.44" width="175.39" height="32.64" fill="#fee89b"/><rect x="1417.22" y="1646.44" width="175.39" height="32.64" fill="#fed888"/><rect x="1592.61" y="1646.44" width="175.39" height="32.64" fill="#fffdbd"/>
<rect x="189.50" y="1679.08" width="175.39" height="32.64" fill="#70a8cf"/><rect x="364.89" y="1679.08" width="175.39" height="32.64" fill="#679dc9"/><rect x="540.28" y="1679.08" width="175.39" height="32.64" fill="#679dc9"/><rect x="715.67" y="1679.08" width="175.39" height="32.64" fill="#f98f53"/><rect x="891.06" y="1679.08" width="175.39" height="32.64" fill="#fa9656"/><rect x="1066.44" y="1679.08" width="175.39" height="32.64" fill="#f88950"/><rect x="1241.83" y="1679.08" width="175.39" height="32.64" fill="#fed384"/><rect x="1417.22" y="1679.08" width="175.39" height="32.64" fill="#fafdc8"/><rect x="1592.61" y="1679.08" width="175.39" height="32.64" fill="#fedd8d"/>
<rect x="189.50" y="1711.72" width="175.39" height="32.64" fill="#3d5ca8"/><rect x="364.89" y="1711.72" width="175.39" height="32.64" fill="#e8f6ea"/><rect x="540.28" y="1711.72" width="175.39" height="32.64" fill="#d2ecf4"/><rect x="715.67" y="1711.72" width="175.39" height="32.64" fill="#f98f53"/><rect x="891.06" y="1711.72" width="175.39" height="32.64" fill="#e95638"/><rect x="1066.44" y="1711.72" width="175.39" height="32.64" fill="#fee89b"/><rect x="1241.83" y="1711.72" width="175.39" height="32.64" fill="#fff4ae"/><rect x="1417.22" y="1711.72" width="175.39" height="32.64" fill="#fba35c"/><rect x="1592.61" y="1711.72" width="175.39" height="32.64" fill="#86bbd9"/>
<rect x="189.50" y="1744.36" width="175.39" height="32.64" fill="#80b7d6"/><rect x="364.89" y="1744.36" width="175.39" height="32.64" fill="#80b7d6"/><rect x="540.28" y="1744.36" width="175.39" height="32.64" fill="#80b7d6"/><rect x="715.67" y="1744.36" width="175.39" height="32.64" fill="#fba35c"/><rect x="891.06" y="1744.36" width="175.39" height="32.64" fill="#fba35c"/><rect x="1066.44" y="1744.36" width="175.39" height="32.64" fill="#fb9c59"/><rect x="1241.83" y="1744.36" width="175.39" height="32.64" fill="#fba35c"/><rect x="1417.22" y="1744.36" width="175.39" height="32.64" fill="#fdb567"/><rect x="1592.61" y="1744.36" width="175.39" height="32.64" fill="#86bbd9"/>
<rect x="189.50" y="1777.00" width="175.39" height="32.64" fill="#ddf1f7"/><rect x="364.89" y="1777.00" width="175.39" height="32.64" fill="#eef8df"/><rect x="540.28" y="1777.00" width="175.39" height="32.64" fill="#b2dceb"/><rect x="715.67" y="1777.00" width="175.39" height="32.64" fill="#e95638"/><rect x="891.06" y="1777.00" width="175.39" height="32.64" fill="#ef623e"/><rect x="1066.44" y="1777.00" width="175.39" height="32.64" fill="#f88950"/><rect x="1241.83" y="1777.00" width="175.39" height="32.64" fill="#e8f6ea"/><rect x="1417.22" y="1777.00" width="175.39" height="32.64" fill="#a7d6e7"/><rect x="1592.61" y="1777.00" width="175.39" height="32.64" fill="#6ba3cc"/>
<rect x="189.50" y="1809.64" width="175.39" height="32.64" fill="#f1fad9"/><rect x="364.89" y="1809.64" width="175.39" height="32.64" fill="#a2d1e5"/><rect x="540.28" y="1809.64" width="175.39" height="32.64" fill="#333c98"/><rect x="715.67" y="1809.64" width="175.39" height="32.64" fill="#fa9656"/><rect x="891.06" y="1809.64" width="175.39" height="32.64" fill="#fa9656"/><rect x="1066.44" y="1809.64" width="175.39" height="32.64" fill="#f88950"/><rect x="1241.83" y="1809.64" width="175.39" height="32.64" fill="#fed384"/><rect x="1417.22" y="1809.64" width="175.39" height="32.64" fill="#fffdbd"/><rect x="1592.61" y="1809.64" width="175.39" height="32.64" fill="#cdeaf3"/>
</g>
<g fill="none" stroke="#141414" stroke-width="2.6" stroke-linejoin="miter" stroke-linecap="square">
<path d="M189.0 194.0H144.0V226.6H189.0"/>
<path d="M189.0 161.3H109.6V210.3H144.0"/>
<path d="M189.0 291.9H157.2V324.5H189.0"/>
<path d="M189.0 259.2H118.1V308.2H157.2"/>
<path d="M189.0 357.2H162.5V389.8H189.0"/>
<path d="M189.0 455.1H172.5V487.7H189.0"/>
<path d="M189.0 422.4H162.5V471.4H172.5"/>
<path d="M162.5 373.5H152.7V446.9H162.5"/>
<path d="M189.0 553.0H161.8V585.6H189.0"/>
<path d="M189.0 520.4H140.0V569.3H161.8"/>
<path d="M189.0 618.3H155.3V650.9H189.0"/>
<path d="M189.0 683.6H152.7V716.2H189.0"/>
<path d="M189.0 748.8H149.5V781.5H189.0"/>
<path d="M152.7 699.9H134.6V765.2H149.5"/>
<path d="M155.3 634.6H131.0V732.5H134.6"/>
<path d="M140.0 544.8H114.1V683.6H131.0"/>
<path d="M152.7 410.2H106.9V614.2H114.1"/>
<path d="M118.1 283.7H83.7V512.2H106.9"/>
<path d="M109.6 185.8H51.3V398.0H83.7"/>
<path d="M189.0 879.4H170.3V912.0H189.0"/>
<path d="M189.0 846.8H153.1V895.7H170.3"/>
<path d="M189.0 814.1H84.2V871.2H153.1"/>
<path d="M189.0 1042.6H178.0V1075.2H189.0"/>
<path d="M189.0 1010.0H161.2V1058.9H178.0"/>
<path d="M189.0 977.3H138.6V1034.4H161.2"/>
<path d="M189.0 944.7H131.7V1005.9H138.6"/>
<path d="M189.0 1140.5H148.6V1173.2H189.0"/>
<path d="M189.0 1107.9H140.0V1156.8H148.6"/>
<path d="M189.0 1205.8H164.0V1238.4H189.0"/>
<path d="M189.0 1271.1H153.1V1303.7H189.0"/>
<path d="M164.0 1222.1H131.0V1287.4H153.1"/>
<path d="M140.0 1132.4H123.2V1254.8H131.0"/>
<path d="M131.7 975.3H116.0V1193.6H123.2"/>
<path d="M189.0 1369.0H156.7V1401.6H189.0"/>
<path d="M189.0 1434.3H155.8V1466.9H189.0"/>
<path d="M156.7 1385.3H141.3V1450.6H155.8"/>
<path d="M189.0 1336.4H114.1V1418.0H141.3"/>
<path d="M116.0 1084.4H79.7V1377.2H114.1"/>
<path d="M189.0 1564.8H178.0V1597.5H189.0"/>
<path d="M189.0 1532.2H161.8V1581.2H178.0"/>
<path d="M189.0 1499.6H153.6V1556.7H161.8"/>
<path d="M189.0 1662.8H159.8V1695.4H189.0"/>
<path d="M189.0 1630.1H144.4V1679.1H159.8"/>
<path d="M153.6 1528.1H128.0V1654.6H144.4"/>
<path d="M189.0 1728.0H153.8V1760.7H189.0"/>
<path d="M189.0 1793.3H131.6V1826.0H189.0"/>
<path d="M153.8 1744.4H112.9V1809.6H131.6"/>
<path d="M128.0 1591.4H79.2V1777.0H112.9"/>
<path d="M79.7 1230.8H58.0V1684.2H79.2"/>
<path d="M84.2 842.7H41.3V1457.5H58.0"/>
<path d="M51.3 291.9H4.5V1150.1H41.3"/>
</g>
<rect x="179.25" y="139.85" width="1590.30" height="644.70" fill="none" stroke="#000" stroke-width="8.8"/>
<rect x="179.25" y="838.9" width="1590.30" height="644.25" fill="none" stroke="#000" stroke-width="8.8"/>
<rect x="179.25" y="1506.0" width="1590.30" height="340.10" fill="none" stroke="#000" stroke-width="8.8"/>
<g font-size="28.2" stroke="#000" stroke-width="0.3">
<text transform="translate(1778.8,171.7) scale(1,1.07)">Pg_S4522.4</text>
<text transform="translate(1778.8,204.4) scale(1,1.07)">Pg_S3249.2</text>
<text transform="translate(1778.8,237.0) scale(1,1.07)">Pg_S0219.9</text>
<text transform="translate(1778.8,269.6) scale(1,1.07)">Pg_S2708.17</text>
<text transform="translate(1778.8,302.3) scale(1,1.07)">Pg_S7193.4</text>
<text transform="translate(1778.8,334.9) scale(1,1.07)">Pg_S0849.41</text>
<text transform="translate(1778.8,367.6) scale(1,1.07)">Pg_S4333.21</text>
<text transform="translate(1778.8,400.2) scale(1,1.07)">Pg_S2282.8</text>
<text transform="translate(1778.8,432.8) scale(1,1.07)">Pg_S1097.4</text>
<text transform="translate(1778.8,465.5) scale(1,1.07)">Pg_S6125.7</text>
<text transform="translate(1778.8,498.1) scale(1,1.07)">Pg_S5908.12</text>
<text transform="translate(1778.8,530.8) scale(1,1.07)">Pg_S0034.27</text>
<text transform="translate(1778.8,563.4) scale(1,1.07)">Pg_S1599.2</text>
<text transform="translate(1778.8,596.0) scale(1,1.07)">Pg_S0810.58</text>
<text transform="translate(1778.8,628.7) scale(1,1.07)">Pg_S4994.2</text>
<text transform="translate(1778.8,661.3) scale(1,1.07)">Pg_S3271.10</text>
<text transform="translate(1778.8,694.0) scale(1,1.07)">Pg_S0866.11</text>
<text transform="translate(1778.8,726.6) scale(1,1.07)">Pg_S0058.5</text>
<text transform="translate(1778.8,759.2) scale(1,1.07)">Pg_S5690.2</text>
<text transform="translate(1778.8,791.9) scale(1,1.07)">Pg_S4135.1</text>
<text transform="translate(1778.8,824.5) scale(1,1.07)">Pg_S0124.10</text>
<text transform="translate(1778.8,857.2) scale(1,1.07)">Pg_S7244.2</text>
<text transform="translate(1778.8,889.8) scale(1,1.07)">Pg_S0622.14</text>
<text transform="translate(1778.8,922.4) scale(1,1.07)">Pg_S0252.2</text>
<text transform="translate(1778.8,955.1) scale(1,1.07)">Pg_S4205.2</text>
<text transform="translate(1778.8,987.7) scale(1,1.07)">Pg_S6977.4</text>
<text transform="translate(1778.8,1020.4) scale(1,1.07)">Pg_S0741.7</text>
<text transform="translate(1778.8,1053.0) scale(1,1.07)">Pg_S4405.7</text>
<text transform="translate(1778.8,1085.6) scale(1,1.07)">Pg_S2473.26</text>
<text transform="translate(1778.8,1118.3) scale(1,1.07)">Pg_S0360.15</text>
<text transform="translate(1778.8,1150.9) scale(1,1.07)">Pg_S2124.22</text>
<text transform="translate(1778.8,1183.6) scale(1,1.07)">Pg_S0547.2</text>
<text transform="translate(1778.8,1216.2) scale(1,1.07)">Pg_S5466.9</text>
<text transform="translate(1778.8,1248.8) scale(1,1.07)">Pg_S5355.5</text>
<text transform="translate(1778.8,1281.5) scale(1,1.07)">Pg_S5731.2</text>
<text transform="translate(1778.8,1314.1) scale(1,1.07)">Pg_S0689.5</text>
<text transform="translate(1778.8,1346.8) scale(1,1.07)">Pg_S0360.14</text>
<text transform="translate(1778.8,1379.4) scale(1,1.07)">Pg_S1795.2</text>
<text transform="translate(1778.8,1412.0) scale(1,1.07)">Pg_S0232.45</text>
<text transform="translate(1778.8,1444.7) scale(1,1.07)">Pg_S6224.1</text>
<text transform="translate(1778.8,1477.3) scale(1,1.07)">Pg_S5220.2</text>
<text transform="translate(1778.8,1510.0) scale(1,1.07)">Pg_S3366.3</text>
<text transform="translate(1778.8,1542.6) scale(1,1.07)">Pg_S6588.11</text>
<text transform="translate(1778.8,1575.2) scale(1,1.07)">Pg_S0992.39</text>
<text transform="translate(1778.8,1607.9) scale(1,1.07)">Pg_S0877.22</text>
<text transform="translate(1778.8,1640.5) scale(1,1.07)">Pg_S0144.38</text>
<text transform="translate(1778.8,1673.2) scale(1,1.07)">Pg_S6095.6</text>
<text transform="translate(1778.8,1705.8) scale(1,1.07)">Pg_S4807.4</text>
<text transform="translate(1778.8,1738.4) scale(1,1.07)">Pg_S6086.3</text>
<text transform="translate(1778.8,1771.1) scale(1,1.07)">Pg_S2641.16</text>
<text transform="translate(1778.8,1803.7) scale(1,1.07)">Pg_S3653.8</text>
<text transform="translate(1778.8,1836.4) scale(1,1.07)">Pg_S2438.4</text>
</g>
<g font-size="28" text-anchor="end" stroke="#000" stroke-width="0.3">
<text transform="translate(288.0,1852.7) rotate(-90) scale(1,1.07)">FPKM.CK_1</text>
<text transform="translate(463.4,1852.7) rotate(-90) scale(1,1.07)">FPKM.CK_2</text>
<text transform="translate(638.8,1852.7) rotate(-90) scale(1,1.07)">FPKM.CK_3</text>
<text transform="translate(814.2,1852.7) rotate(-90) scale(1,1.07)">FPKM.CP_14h1</text>
<text transform="translate(989.5,1852.7) rotate(-90) scale(1,1.07)">FPKM.CP_14h2</text>
<text transform="translate(1164.9,1852.7) rotate(-90) scale(1,1.07)">FPKM.CP_14h3</text>
<text transform="translate(1340.3,1852.7) rotate(-90) scale(1,1.07)">FPKM.CP_24h1</text>
<text transform="translate(1515.7,1852.7) rotate(-90) scale(1,1.07)">FPKM.CP_24h2</text>
<text transform="translate(1691.1,1852.7) rotate(-90) scale(1,1.07)">FPKM.CP_24h3</text>
</g>
<defs><linearGradient id="lg" x1="0" y1="1" x2="0" y2="0"><stop offset="0.00" stop-color="#313695"/><stop offset="0.10" stop-color="#4575B4"/><stop offset="0.20" stop-color="#74ADD1"/><stop offset="0.30" stop-color="#ABD9E9"/><stop offset="0.40" stop-color="#E0F3F8"/><stop offset="0.50" stop-color="#FFFFBF"/><stop offset="0.60" stop-color="#FEE090"/><stop offset="0.70" stop-color="#FDAE61"/><stop offset="0.80" stop-color="#F46D43"/><stop offset="0.90" stop-color="#D73027"/><stop offset="1.00" stop-color="#A50026"/></linearGradient></defs>
<rect x="1974.2" y="145.2" width="35.1" height="529.1" fill="url(#lg)"/>
<g font-size="37.5" stroke="#000" stroke-width="0.3">
<text x="2022.3" y="159.2">2</text>
<text x="2022.3" y="291.5">1</text>
<text x="2022.3" y="423.8">0</text>
<text x="2022.3" y="556.0">-1</text>
<text x="2022.3" y="688.3">-2</text>
</g>
<g font-size="56" font-weight="bold">
<text transform="translate(2152,448.6) scale(1,1.07)">I</text>
<text transform="translate(2137,1057.6) scale(1,1.07)" letter-spacing="0.9">II</text>
<text transform="translate(2117,1639.2) scale(1,1.07)" letter-spacing="1.6">III</text>
</g>
</svg>
</body></html>
